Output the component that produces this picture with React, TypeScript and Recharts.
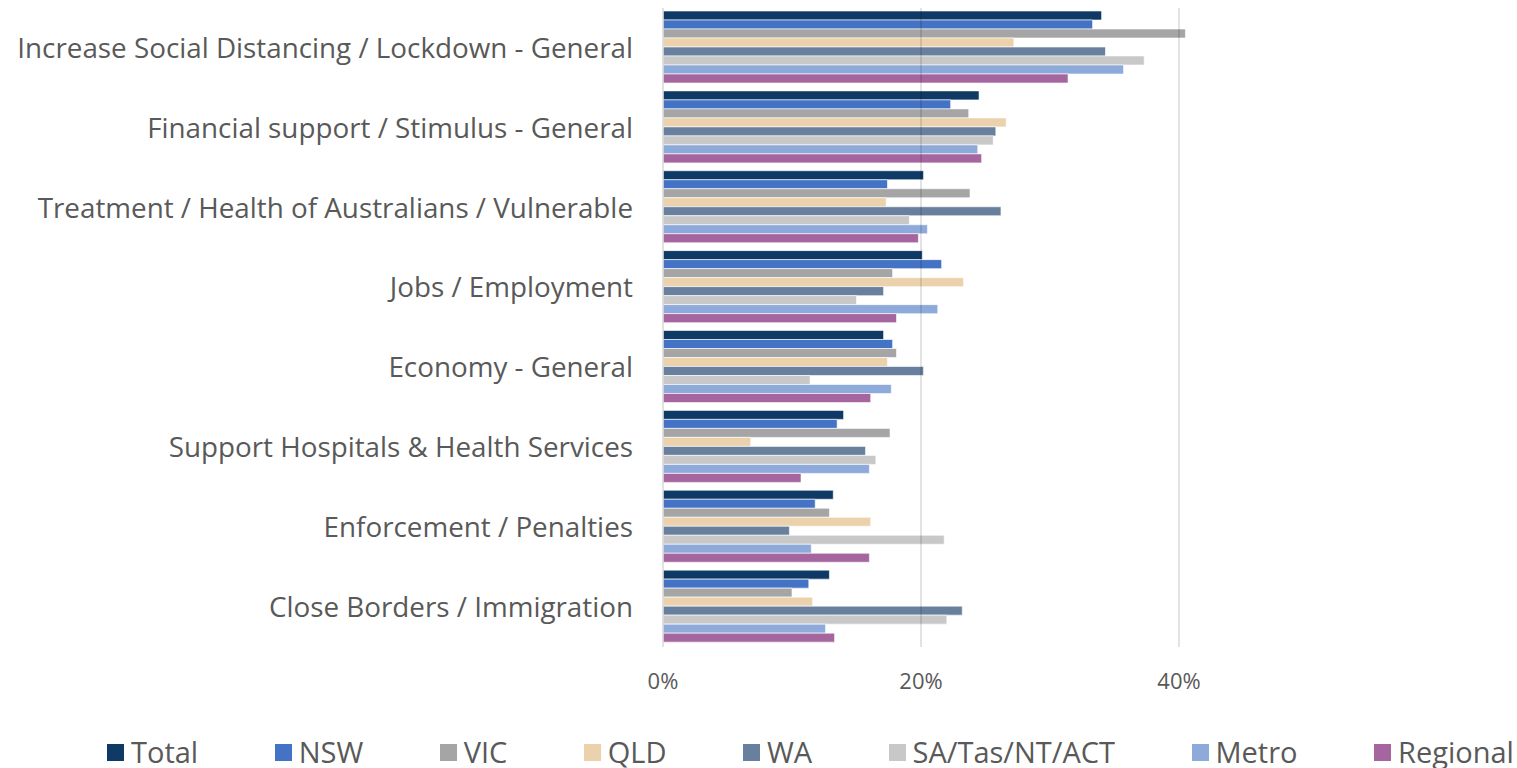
import React from "react";
import { Bar, BarChart, XAxis, YAxis, ReferenceLine } from "recharts";

const categories = [
  "Increase Social Distancing / Lockdown - General",
  "Financial support / Stimulus - General",
  "Treatment / Health of Australians / Vulnerable",
  "Jobs / Employment",
  "Economy - General",
  "Support  Hospitals & Health Services",
  "Enforcement / Penalties",
  "Close Borders / Immigration",
];

const seriesNames = ["Total", "NSW", "VIC", "QLD", "WA", "SA/Tas/NT/ACT", "Metro", "Regional"];
const seriesColors = ["#0f3a66", "#4472c4", "#a5a5a5", "#ebd2ac", "#697f9e", "#c9c8c8", "#8eaadb", "#a566a0"];

const total = [0.34, 0.245, 0.202, 0.201, 0.171, 0.14, 0.132, 0.129];
const nsw = [0.333, 0.223, 0.174, 0.216, 0.178, 0.135, 0.118, 0.113];
const vic = [0.405, 0.237, 0.238, 0.178, 0.181, 0.176, 0.129, 0.1];
const qld = [0.272, 0.266, 0.173, 0.233, 0.174, 0.068, 0.161, 0.116];
const wa = [0.343, 0.258, 0.262, 0.171, 0.202, 0.157, 0.098, 0.232];
const saTasNtAct = [0.373, 0.256, 0.191, 0.15, 0.114, 0.165, 0.218, 0.22];
const metro = [0.357, 0.244, 0.205, 0.213, 0.177, 0.16, 0.115, 0.126];
const regional = [0.314, 0.247, 0.198, 0.181, 0.161, 0.107, 0.16, 0.133];

const xTicks = [0, 0.2, 0.4];

const seriesValues = [total, nsw, vic, qld, wa, saTasNtAct, metro, regional];

const data = categories.map((name, i) => {
  const row: Record<string, string | number> = { name };
  seriesNames.forEach((s, j) => {
    row[s] = seriesValues[j][i];
  });
  return row;
});

const font = "'Open Sans', sans-serif";

export default function App() {
  return (
    <div style={{ position: "absolute", left: 0, top: 0, width: 1517, height: 768, background: "#fff", fontFamily: font }}>
      <BarChart
        width={1517}
        height={768}
        data={data}
        layout="vertical"
        margin={{ top: 8, right: 80, left: 0, bottom: 0 }}
        barCategoryGap={3}
        barGap={0}
      >
        <XAxis
          type="number"
          domain={[0, 0.6]}
          ticks={xTicks}
          tickFormatter={(v: number) => `${Math.round(v * 100)}%`}
          axisLine={false}
          tickLine={false}
          tickSize={0}
          tickMargin={26}
          height={121}
          tick={{ fill: "#595959", fontSize: 22, fontFamily: font }}
        />
        <YAxis
          type="category"
          dataKey="name"
          width={663}
          tickLine={false}
          tickSize={0}
          tickMargin={30}
          axisLine={{ stroke: "#d9d9d9", strokeWidth: 1.5 }}
          interval={0}
          tick={{ fill: "#595959", fontSize: 27.8, fontFamily: font }}
        />
        {seriesNames.map((s, j) => (
          <Bar
            key={s}
            dataKey={s}
            fill={seriesColors[j]}
            stroke="#ffffff"
            strokeWidth={0.6}
            isAnimationActive={false}
          />
        ))}
        {xTicks.slice(1).map((t) => (
          <ReferenceLine key={t} x={t} stroke="#000" strokeOpacity={0.15} strokeWidth={1.5} />
        ))}
      </BarChart>
      <div
        style={{
          position: "absolute",
          left: 107,
          top: 734,
          width: 1407,
          display: "flex",
          justifyContent: "space-between",
          alignItems: "center",
          fontSize: 29,
          color: "#595959",
          lineHeight: "36px",
        }}
      >
        {seriesNames.map((s, j) => (
          <div key={s} style={{ display: "flex", alignItems: "center", whiteSpace: "nowrap" }}>
            <span style={{ display: "inline-block", width: 17, height: 17, background: seriesColors[j], marginRight: 7 }} />
            <span>{s}</span>
          </div>
        ))}
      </div>
    </div>
  );
}
